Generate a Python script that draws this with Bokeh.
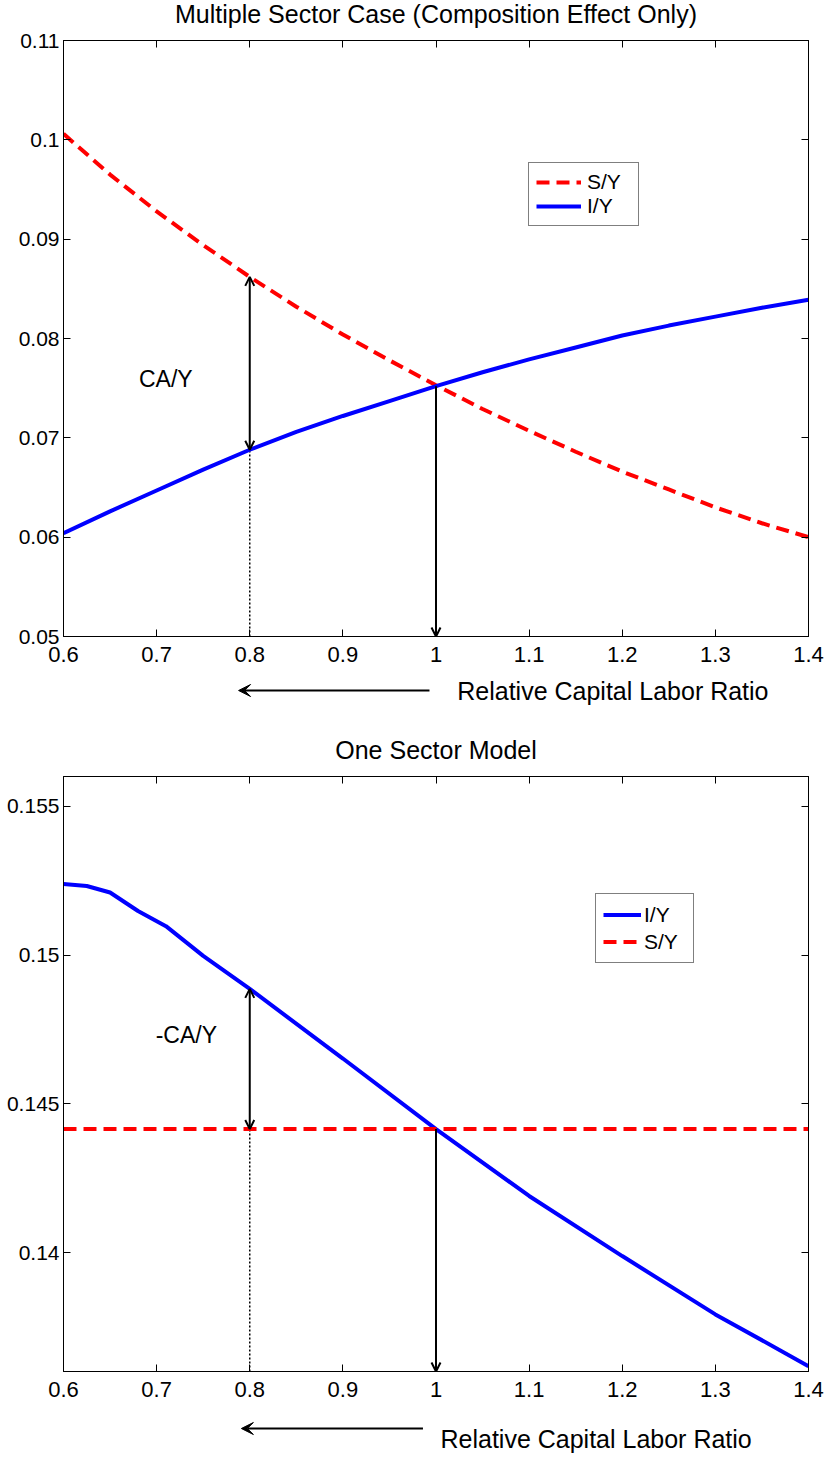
from bokeh.plotting import figure
from bokeh.models import (Range1d, LinearAxis, FixedTicker, Arrow, OpenHead, VeeHead,
                          Label, Legend, LegendItem)
from bokeh.layouts import column
from bokeh.embed import file_html
from bokeh.resources import INLINE

FONT = "Liberation Sans"

# ---------------- data ----------------
x_top = [0.6, 0.65, 0.7, 0.75, 0.8, 0.85, 0.9, 0.95, 1.0, 1.05, 1.1, 1.15, 1.2, 1.25, 1.3, 1.35, 1.4]
sy_top = [0.1006, 0.0965, 0.0928, 0.0894, 0.0862, 0.0832, 0.0804, 0.0778, 0.0753, 0.0729, 0.0707,
          0.0686, 0.0666, 0.0648, 0.0630, 0.0614, 0.0600]
iy_top = [0.0604, 0.0626, 0.0647, 0.0668, 0.0688, 0.0706, 0.0722, 0.0737, 0.0752, 0.0766, 0.0779,
          0.0791, 0.0803, 0.0813, 0.0822, 0.0831, 0.0839]

x_bot = [0.6, 0.625, 0.65, 0.68, 0.71, 0.75, 0.8, 0.9, 1.0, 1.1, 1.2, 1.3, 1.4]
iy_bot = [0.15239, 0.15232, 0.15210, 0.15148, 0.15097, 0.14997, 0.14886, 0.14652, 0.14415,
          0.14190, 0.13988, 0.13792, 0.13618]
x_bot_s = [0.6, 1.4]
sy_bot = [0.14415, 0.14415]

x_ticks = [0.6, 0.7, 0.8, 0.9, 1.0, 1.1, 1.2, 1.3, 1.4]
x_tick_labels = ["0.6", "0.7", "0.8", "0.9", "1", "1.1", "1.2", "1.3", "1.4"]
y_ticks_top = [0.05, 0.06, 0.07, 0.08, 0.09, 0.1, 0.11]
y_tick_labels_top = ["0.05", "0.06", "0.07", "0.08", "0.09", "0.1", "0.11"]
y_ticks_bot = [0.14, 0.145, 0.15, 0.155]
y_tick_labels_bot = ["0.14", "0.145", "0.15", "0.155"]

titles = ["Multiple Sector Case (Composition Effect Only)", "One Sector Model"]
x_label = "Relative Capital Labor Ratio"
x_mark = 0.8      # dotted reference / CA arrow
x_cross = 1.0     # intersection arrow
x_range = (0.6, 1.4)
W = 827
BL, BR = 63, 19


def style_axis(ax, ticks, labels, show, size):
    ax.ticker = FixedTicker(ticks=ticks)
    ax.major_label_overrides = {t: (l if show else "") for t, l in zip(ticks, labels)}
    ax.axis_line_color = "black"
    ax.axis_line_width = 1
    ax.major_tick_in = 7
    ax.major_tick_out = 0
    ax.major_tick_line_color = "black"
    ax.major_tick_line_width = 1
    ax.minor_tick_line_color = None
    ax.major_label_text_font = FONT
    ax.major_label_text_font_size = size if show else "0px"
    ax.major_label_text_color = "black"
    ax.major_label_standoff = 10 if show else 0


def make_fig(height, top_b, bottom_b, yr, yticks, ylabels):
    p = figure(width=W, height=height, x_range=Range1d(*x_range), y_range=Range1d(*yr),
               output_backend="svg", toolbar_location=None, title=None,
               min_border_left=BL, min_border_right=BR,
               min_border_top=top_b, min_border_bottom=bottom_b)
    p.xgrid.visible = False
    p.ygrid.visible = False
    p.outline_line_color = "black"
    p.background_fill_color = "white"
    p.border_fill_color = "white"
    style_axis(p.xaxis[0], x_ticks, x_tick_labels, True, "22px")
    style_axis(p.yaxis[0], yticks, ylabels, True, "21px")
    p.yaxis[0].major_label_standoff = 4
    top_ax = LinearAxis()
    style_axis(top_ax, x_ticks, x_tick_labels, False, "22px")
    p.add_layout(top_ax, "above")
    right_ax = LinearAxis()
    style_axis(right_ax, yticks, ylabels, False, "21px")
    p.add_layout(right_ax, "right")
    return p


def make_strip(h):
    s = figure(width=W, height=h, x_range=Range1d(*x_range), y_range=Range1d(0, h),
               output_backend="svg", toolbar_location=None, title=None,
               min_border_left=BL, min_border_right=BR, min_border_top=0, min_border_bottom=0,
               x_axis_location=None, y_axis_location=None)
    s.xgrid.visible = False
    s.ygrid.visible = False
    s.outline_line_color = None
    s.background_fill_color = "white"
    s.border_fill_color = "white"
    return s


def add_title(s, text, y):
    s.add_layout(Label(x=(x_range[0] + x_range[1]) / 2, y=y, text=text, text_font=FONT,
                       text_font_size="25px", text_color="black", text_align="center",
                       text_baseline="middle"))


def add_direction(s, x0, x1, y_arrow, x_text, y_text):
    s.add_layout(Arrow(end=VeeHead(size=12, fill_color="black", line_color="black"),
                       x_start=x0, y_start=y_arrow, x_end=x1, y_end=y_arrow,
                       line_width=2, line_color="black"))
    s.add_layout(Label(x=x_text, y=y_text, text=x_label, text_font=FONT, text_font_size="25px",
                       text_color="black", text_baseline="middle"))


def head():
    return OpenHead(size=9, line_width=2, line_color="black")


# ---------------- strip above the top plot (title) ----------------
s1 = make_strip(28)
add_title(s1, titles[0], 14.5)

# ---------------- top figure ----------------
p1 = make_fig(644, 12, 36, (0.05, 0.11), y_ticks_top, y_tick_labels_top)
i_m = x_top.index(x_mark)
i_c = x_top.index(x_cross)
p1.line([x_mark, x_mark], [0.05, iy_top[i_m]], line_color="black", line_width=1.5, line_dash="2 2")
r_s1 = p1.line(x_top, sy_top, line_color="#ff0000", line_width=4, line_dash="13 7")
r_i1 = p1.line(x_top, iy_top, line_color="#0000ff", line_width=4)
p1.add_layout(Arrow(start=head(), end=head(),
                    x_start=x_mark, y_start=iy_top[i_m], x_end=x_mark, y_end=sy_top[i_m],
                    line_width=2, line_color="black"))
p1.add_layout(Arrow(end=head(), x_start=x_cross, y_start=iy_top[i_c], x_end=x_cross, y_end=0.05,
                    line_width=2, line_color="black"))
p1.add_layout(Label(x=0.681, y=0.0759, text="CA/Y", text_font=FONT, text_font_size="23px",
                    text_color="black", text_baseline="middle"))
leg1 = Legend(items=[LegendItem(label="S/Y", renderers=[r_s1]),
                     LegendItem(label="I/Y", renderers=[r_i1])],
              location=(465, 410), margin=0, padding=7, spacing=0,
              glyph_width=45, glyph_height=22, label_height=22, label_width=44,
              label_standoff=6, label_text_font=FONT, label_text_font_size="21px",
              label_text_color="black",
              border_line_color="black", border_line_width=1, background_fill_color="white",
              background_fill_alpha=1)
p1.add_layout(leg1)

# ---------------- strip between the plots ----------------
s2 = make_strip(100)
add_direction(s2, 0.993, 0.788, 82, 1.0228, 81.5)
add_title(s2, titles[1], 23)

# ---------------- bottom figure ----------------
p2 = make_fig(635, 4, 36, (0.136, 0.156), y_ticks_bot, y_tick_labels_bot)
j_m = x_bot.index(x_mark)
j_c = x_bot.index(x_cross)
p2.line([x_mark, x_mark], [0.136, sy_bot[0]], line_color="black", line_width=1.5, line_dash="2 2")
r_i2 = p2.line(x_bot, iy_bot, line_color="#0000ff", line_width=4)
r_s2 = p2.line(x_bot_s, sy_bot, line_color="#ff0000", line_width=4, line_dash="13 7")
p2.add_layout(Arrow(start=head(), end=head(),
                    x_start=x_mark, y_start=sy_bot[0], x_end=x_mark, y_end=iy_bot[j_m],
                    line_width=2, line_color="black"))
p2.add_layout(Arrow(end=head(), x_start=x_cross, y_start=iy_bot[j_c], x_end=x_cross, y_end=0.136,
                    line_width=2, line_color="black"))
p2.add_layout(Label(x=0.699, y=0.14731, text="-CA/Y", text_font=FONT, text_font_size="23px",
                    text_color="black", text_baseline="middle"))
leg2 = Legend(items=[LegendItem(label="I/Y", renderers=[r_i2]),
                     LegendItem(label="S/Y", renderers=[r_s2])],
              location=(532, 408), margin=0, padding=7, spacing=0,
              glyph_width=38, glyph_height=27, label_height=27, label_width=42,
              label_standoff=3, label_text_font=FONT, label_text_font_size="21px",
              label_text_color="black",
              border_line_color="black", border_line_width=1, background_fill_color="white",
              background_fill_alpha=1)
p2.add_layout(leg2)

# ---------------- strip below the bottom plot ----------------
s3 = make_strip(50)
add_direction(s3, 0.986, 0.791, 29, 1.0048, 18.5)

layout = column(s1, p1, s2, p2, s3, spacing=0)
open("out.html", "w").write(file_html(layout, INLINE))
